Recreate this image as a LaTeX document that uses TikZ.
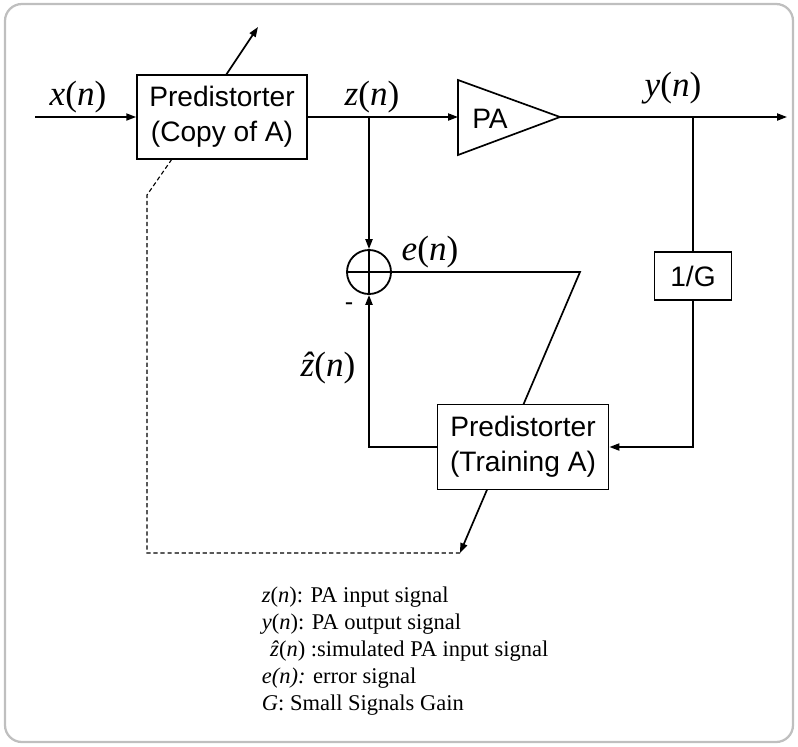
\documentclass[tikz,border=0pt]{standalone}
\usepackage{fontspec}
\setmainfont{Liberation Serif}
\setsansfont{Liberation Sans}
\usetikzlibrary{arrows.meta,backgrounds}

\newcommand{\sg}[1]{\textit{#1}(\textit{n})}

\begin{document}
\begin{tikzpicture}[x=0.025cm, y=-0.025cm,
  blk/.style={draw, fill=white, line width=1.2pt, inner sep=0pt,
    font=\sffamily\fontsize{20}{25}\selectfont, align=center},
  lbl/.style={font=\fontsize{25}{28}\selectfont},
  wire/.style={line width=1.2pt},
  tip/.style={-{Triangle[length=7pt,width=5pt]}}]
\useasboundingbox (0,0) rectangle (798,746);
\draw[black!25, line width=1.6pt, rounded corners=12pt] (5,4) rectangle (793,742);

% blocks
\node[blk, minimum width=4.25cm, minimum height=2.1cm] (copy)  at (222,117) {Predistorter\\(Copy of A)};
\node[blk, minimum width=4.28cm, minimum height=2.12cm] (train) at (523,447) {Predistorter\\(Training A)};
\node[blk, minimum width=1.92cm, minimum height=1.2cm] (gain)  at (693,276) {1/G};
\node[draw, fill=white, circle, line width=1.3pt, minimum size=1.1cm, inner sep=0pt] (sum) at (369,272) {};
\draw[line width=1.3pt] (sum.north) -- (sum.south);
\draw[line width=1.3pt] (sum.west) -- (sum.east);

% PA
\draw[wire, fill=white] (458,80) -- (560,117) -- (458,155) -- cycle;
\node[font=\sffamily\fontsize{20}{24}\selectfont] (pa) at (490,119) {PA};
\coordinate (pain)  at (458,117);
\coordinate (paout) at (560,117);

% junctions and free ends
\coordinate (xin)  at (35,117);
\coordinate (zj)   at (369,117);
\coordinate (yj)   at (693,117);
\coordinate (yout) at (787,117);
\coordinate (ek)   at (580,272);
\coordinate (tune) at (460,553);
\coordinate (dl)   at (147,553);
\coordinate (du)   at (147,195);
\coordinate (cb)   at (172,159);
\coordinate (ct)   at (226,75);
\coordinate (cend) at (258,27);

% signal path
\draw[wire, tip] (xin) -- (copy.west);
\draw[wire, tip] (copy.east) -- (pain);
\draw[wire, tip] (zj) -- (sum.north);
\draw[wire, tip] (paout) -- (yout);
\draw[wire] (yj) -- (gain.north);
\draw[wire, tip] (gain.south) |- (train.east);
\draw[wire, tip] (train.west) -| (sum.south);

% adaptation arrows
\begin{scope}[on background layer]
\draw[wire, tip] (sum.east) -- (ek) -- (tune);
\end{scope}
\draw[line width=0.8pt, dash pattern=on 3pt off 2pt] (tune) -- (dl) -- (du) -- (cb);
\draw[wire, tip] (ct) -- (cend);

% labels
\node[lbl] (xl) at (78,97)  {\sg{x}};
\node[lbl] (zl) at (372,97) {\sg{z}};
\node[lbl] (yl) at (673,88) {\sg{y}};
\node[lbl] (el) at (430,252) {\sg{e}};
\node[lbl] (hl) at (328,368) {\textit{\^{z}}(\textit{n})};
\node[font=\sffamily\fontsize{18}{20}\selectfont] (minus) at (349,307) {-};

% legend
\node[anchor=west, align=left, font=\fontsize{16}{19.3}\selectfont] (legend) at (257,651)
  {\textit{z}(\textit{n}): PA input signal\\
   \textit{y}(\textit{n}): PA output signal\\
   \hspace{0.8ex}\textit{\^{z}}(\textit{n}) :simulated PA input signal\\
   \textit{e(n):} error signal\\
   \textit{G}: Small Signals Gain};
\end{tikzpicture}
\end{document}
